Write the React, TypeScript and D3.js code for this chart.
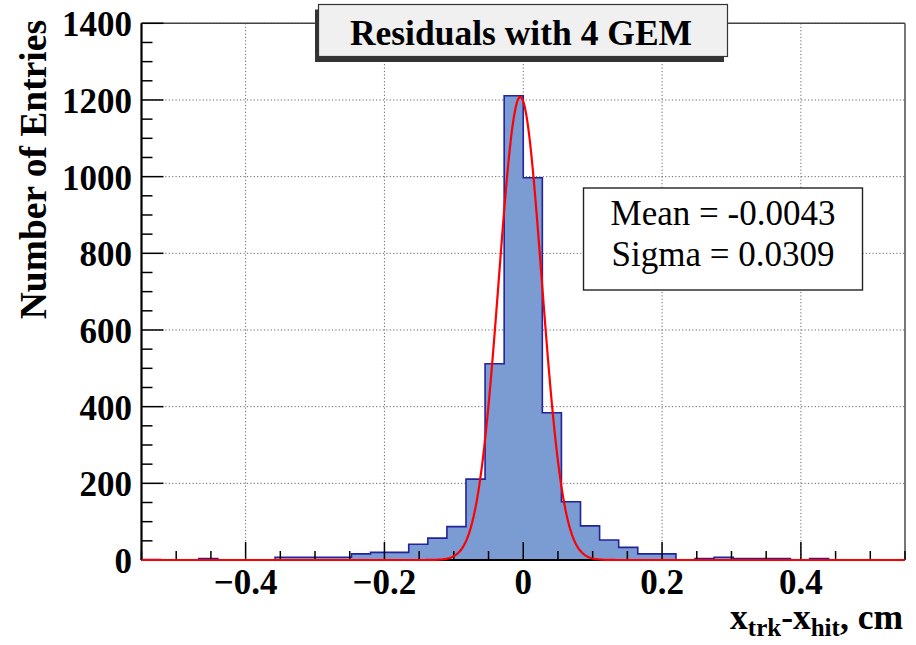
import React from 'react';
import * as d3 from 'd3';

// histogram: 40 bins of 0.0275 cm from -0.55 to 0.55
const binStart = -0.55;
const binWidth = 0.0275;
const counts = [
  1, 0, 0, 4, 0, 0, 0, 7, 7, 7,
  7, 16, 20, 20, 41, 57, 87, 211, 512, 1211,
  997, 384, 152, 89, 52, 33, 16, 16, 0, 4,
  7, 4, 4, 4, 0, 4, 0, 0, 0, 0,
];

// gaussian fit shown in the stats box
const fitMean = -0.0043;
const fitSigma = 0.0309;
const fitPeak = 1208;

const xMajorTicks = [-0.4, -0.2, 0, 0.2, 0.4];
const yMajorTicks = [0, 200, 400, 600, 800, 1000, 1200, 1400];
const statsLines = ['Mean = -0.0043', 'Sigma = 0.0309'];
const title = 'Residuals with 4 GEM';

const W = 916;
const H = 645;
const frame = { left: 141.5, right: 905, top: 23.3, bottom: 560 };
const FONT = '"Liberation Serif", "Times New Roman", serif';

export default function App() {
  const x = d3.scaleLinear().domain([-0.55, 0.55]).range([frame.left, frame.right]);
  const y = d3.scaleLinear().domain([0, 1400]).range([frame.bottom, frame.top]);

  const xMinor = d3.range(-0.55, 0.5501, 0.05).map(v => +v.toFixed(3)).filter(v => !xMajorTicks.some(t => Math.abs(t - v) < 1e-6));
  const yMinor = d3.range(0, 1401, 50).filter(v => v % 200 !== 0);

  // step outline of the histogram
  const pts: [number, number][] = [[x(binStart), y(0)]];
  counts.forEach((c, i) => {
    const x0 = binStart + i * binWidth;
    pts.push([x(x0), y(c)]);
    pts.push([x(x0 + binWidth), y(c)]);
  });
  pts.push([x(binStart + counts.length * binWidth), y(0)]);
  const stepPath = d3.line()(pts) as string;

  const curveX = d3.range(0, 801).map(i => -0.55 + (i * 1.1) / 800);
  const curve = d3.line<number>()
    .x(v => x(v))
    .y(v => y(fitPeak * Math.exp(-0.5 * ((v - fitMean) / fitSigma) ** 2)))(curveX) as string;

  return (
    <svg width={W} height={H} style={{ position: 'absolute', left: 0, top: 0, background: '#fff' }}>
      {/* grid */}
      <g stroke="#666" strokeWidth={1} strokeDasharray="1.2,2.2">
        {xMajorTicks.map(t => (
          <line key={'gx' + t} x1={x(t)} x2={x(t)} y1={frame.top} y2={frame.bottom} />
        ))}
        {yMajorTicks.map(t => (
          <line key={'gy' + t} x1={frame.left} x2={frame.right} y1={y(t)} y2={y(t)} />
        ))}
      </g>

      {/* histogram */}
      <path d={stepPath + 'Z'} fill="rgb(123,155,211)" stroke="none" />
      <path d={stepPath} fill="none" stroke="#23239c" strokeWidth={1.6} />

      {/* frame top/right */}
      <line x1={frame.left} x2={frame.right} y1={frame.top} y2={frame.top} stroke="#444" strokeWidth={1.6} />
      <line x1={frame.right} x2={frame.right} y1={frame.top} y2={frame.bottom} stroke="#555" strokeWidth={1.6} />

      {/* axes */}
      <g stroke="#000">
        <line x1={frame.left} x2={frame.left} y1={frame.top} y2={frame.bottom} strokeWidth={2.2} />
        <line x1={frame.left} x2={frame.right} y1={frame.bottom} y2={frame.bottom} strokeWidth={2.2} />
        {yMajorTicks.map(t => (
          <line key={'ty' + t} x1={frame.left} x2={frame.left + 22} y1={y(t)} y2={y(t)} strokeWidth={1.5} />
        ))}
        {yMinor.map(t => (
          <line key={'my' + t} x1={frame.left} x2={frame.left + 11} y1={y(t)} y2={y(t)} strokeWidth={1.5} />
        ))}
        {xMajorTicks.map(t => (
          <line key={'tx' + t} x1={x(t)} x2={x(t)} y1={frame.bottom} y2={frame.bottom - 18} strokeWidth={1.5} />
        ))}
        {xMinor.map(t => (
          <line key={'mx' + t} x1={x(t)} x2={x(t)} y1={frame.bottom} y2={frame.bottom - 9} strokeWidth={1.5} />
        ))}
      </g>

      {/* fit */}
      <path d={curve} fill="none" stroke="#ff0000" strokeWidth={2.2} />

      {/* tick labels */}
      <g fontFamily={FONT} fontWeight="bold" fontSize={35} fill="#000">
        {yMajorTicks.map(t => (
          <text key={'ly' + t} x={132} y={y(t) + 13} textAnchor="end">{t}</text>
        ))}
        {xMajorTicks.map(t => (
          <text key={'lx' + t} x={x(t)} y={594} textAnchor="middle">
            {t < 0 ? '\u2212' + Math.abs(t).toFixed(1) : t === 0 ? '0' : t.toFixed(1)}
          </text>
        ))}
      </g>

      {/* axis titles */}
      <text
        fontFamily={FONT} fontWeight="bold" fontSize={37.5} textAnchor="end"
        transform="translate(45.5,20) rotate(-90)"
      >
        Number of Entries
      </text>
      <text fontFamily={FONT} fontWeight="bold" fontSize={35.5} x={903} y={629} textAnchor="end">
        x<tspan fontSize={25} dy={7}>trk</tspan>
        <tspan dy={-7}>-x</tspan>
        <tspan fontSize={25} dy={7}>hit</tspan>
        <tspan dy={-7}>, cm</tspan>
      </text>

      {/* title box */}
      <rect x={315} y={9.5} width={409} height={52.5} fill="#333" />
      <rect x={318.5} y={4.5} width={409} height={52} fill="#f0f0f0" stroke="#333" strokeWidth={1.2} />
      <text x={521} y={45} textAnchor="middle" fontFamily={FONT} fontWeight="bold" fontSize={35.5}>{title}</text>

      {/* stats box */}
      <rect x={583.5} y={188} width={279} height={102} fill="#fff" stroke="#222" strokeWidth={1.4} />
      {statsLines.map((s, i) => (
        <text key={s} x={723} y={225 + i * 41} textAnchor="middle" fontFamily={FONT} fontSize={35}>{s}</text>
      ))}
    </svg>
  );
}
